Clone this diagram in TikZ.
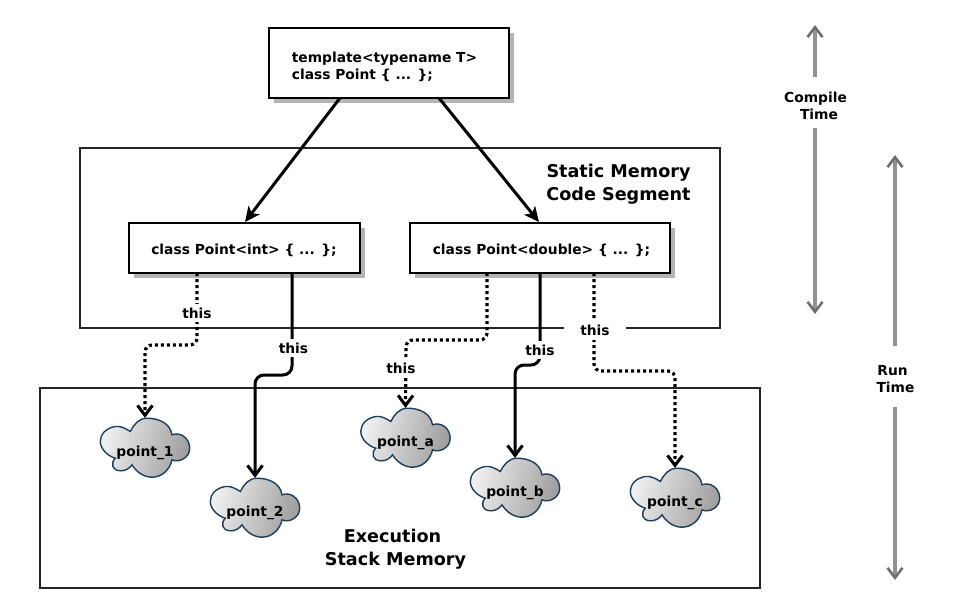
\documentclass[tikz,border=0pt]{standalone}
\usepackage{fontspec}
\setmainfont{DejaVu Sans}
\usetikzlibrary{arrows.meta,calc,shadings}
\definecolor{cloudline}{HTML}{1C3F5E}
\definecolor{shade}{HTML}{B4B4B4}
\definecolor{greyarrow}{HTML}{929292}
\definecolor{greyhead}{HTML}{6E6E6E}
\tikzset{
  x=1pt,y=-1pt,
  txt/.style={font=\bfseries\fontsize{13.8}{17}\selectfont,inner sep=0pt,align=center},
  big/.style={font=\bfseries\fontsize{17.6}{23}\selectfont,inner sep=0pt,align=center},
  codebox/.style={draw=black,line width=1.8pt,fill=white,inner sep=0pt,minimum height=#1},
  shadowbox/.style={fill=shade,draw=none},
  region/.style={draw=black!85,line width=1.3pt},
  conn/.style={line width=3pt,black,rounded corners=9pt,-{Straight Barb[length=10pt,width=15pt,line width=3pt]}},
  dotconn/.style={line width=3.2pt,black,rounded corners=7pt,dash pattern=on 3pt off 3pt,-{Straight Barb[length=10pt,width=15pt,line width=3pt]}},
  diag/.style={line width=3pt,black,-{Stealth[length=15pt,width=14pt,inset=4pt]}},
  time/.style={line width=4pt,greyarrow,line cap=butt},
  timetip/.style={-{Straight Barb[length=10pt,width=15pt,line width=2.6pt,color=greyhead]}},
  lab/.style={txt,fill=white,inner xsep=1.5pt,inner ysep=4pt},
}
\newcommand{\cloudnode}[4]{%
  \path[draw=cloudline,line width=1.4pt,left color=black!6,right color=black!38,shading angle=75,shift={(#2,#3)}]
    (-14.7,-16) .. controls (-19.7,-19.3) and (-24.7,-21.7) .. (-29.7,-21)
    .. controls (-39.7,-19.3) and (-44.7,-12.7) .. (-44.7,-6)
    .. controls (-44.7,2.3) and (-36,9) .. (-29.7,10.7)
    .. controls (-34.7,15.7) and (-33,23) .. (-24.7,23.3)
    .. controls (-19.7,23.7) and (-15.3,20.7) .. (-13,17.3)
    .. controls (-8,25.7) and (0.3,29.7) .. (7,29.7)
    .. controls (17,29.7) and (25,22) .. (27,12.3)
    .. controls (33.7,15.7) and (44.7,10.3) .. (44.7,0.7)
    .. controls (44.7,-9.3) and (35.3,-16) .. (27,-12.7)
    .. controls (25.3,-24.3) and (13.7,-29.3) .. (2,-29.3)
    .. controls (-6.3,-29.3) and (-11.3,-22.7) .. (-14.7,-16) -- cycle;
  \coordinate (#1top) at (#2,#3-29.6);
  \node[txt] (#1) at (#2,#3+5) {#4};
}
\begin{document}
\begin{tikzpicture}
\useasboundingbox (0,0) rectangle (955,608);
% regions
\draw[region] (80,148) rectangle (720,328);
\draw[region] (40,388) rectangle (760,588);
\node[big] (static) at (618.5,184.5) {Static Memory\\Code Segment};
\node[big] (stack) at (395.5,549) {\hspace*{-6pt}Execution\\Stack Memory};
% shadows
\fill[shadowbox] (274,33) rectangle (514,103);
\fill[shadowbox] (134,228) rectangle (365,278);
\fill[shadowbox] (415,228) rectangle (675,278);
% boxes
\node[codebox=70pt,minimum width=240pt] (tmpl) at (389,63) {};
\node[txt,align=left] (tmpltxt) at (384.5,67) {template<typename T>\\class Point \{ ... \};};
\node[codebox=50pt,minimum width=231pt] (cint) at (244.5,248) {};
\node[txt] (cinttxt) at (244,250) {class Point<int> \{ ... \};};
\node[codebox=50pt,minimum width=260pt] (cdbl) at (540,248) {};
\node[txt] (cdbltxt) at (541.5,250) {class Point<double> \{ ... \};};
% clouds
\cloudnode{pone}{145}{447.5}{point\_1}
\cloudnode{ptwo}{255}{507.5}{point\_2}
\cloudnode{pa}{405.5}{437.5}{point\_a}
\cloudnode{pb}{515}{487.5}{point\_b}
\cloudnode{pc}{675}{497.5}{point\_c}
% connectors
\coordinate (t1) at (340,98); \coordinate (t2) at (439,98);
\coordinate (i1) at (197,273); \coordinate (i2) at (292,273);
\coordinate (d1) at (487,273); \coordinate (d2) at (540,273); \coordinate (d3) at (594,273);
\coordinate (e1) at (245,222); \coordinate (e2) at (539,222);
\draw[diag] (t1) -- (e1);
\draw[diag] (t2) -- (e2);
\draw[dotconn] (i1) |- (145,345) -- (ponetop);
\draw[conn] (i2) |- (255,375) -- (ptwotop);
\draw[dotconn] (d1) |- (406,340) -- (patop);
\draw[conn] (d2) |- (515,365) -- (pbtop);
\draw[dotconn] (d3) |- (675,371) -- (pctop);
\node[lab] (l1) at (197,313) {this};
\node[lab] (l2) at (293.5,348) {this};
\node[lab] (l3) at (401,368) {this};
\node[lab] (l4) at (540,350) {this};
\node[lab,inner xsep=16pt,inner ysep=5pt] (l5) at (595,330) {this};
% time arrows
\coordinate (ca) at (815,25); \coordinate (cb) at (815,314);
\coordinate (ra) at (895,155); \coordinate (rb) at (895,580);
\node[txt] (ctime) at (815.5,105.5) {Compile\\\hspace*{7pt}Time};
\node[txt] (rtime) at (895.5,379) {Run\hspace*{6pt}\\Time};
\draw[time,timetip] (815,77) -- (ca);
\draw[time,timetip] (815,128) -- (cb);
\draw[time,timetip] (895,346) -- (ra);
\draw[time,timetip] (895,407) -- (rb);
\end{tikzpicture}
\end{document}
